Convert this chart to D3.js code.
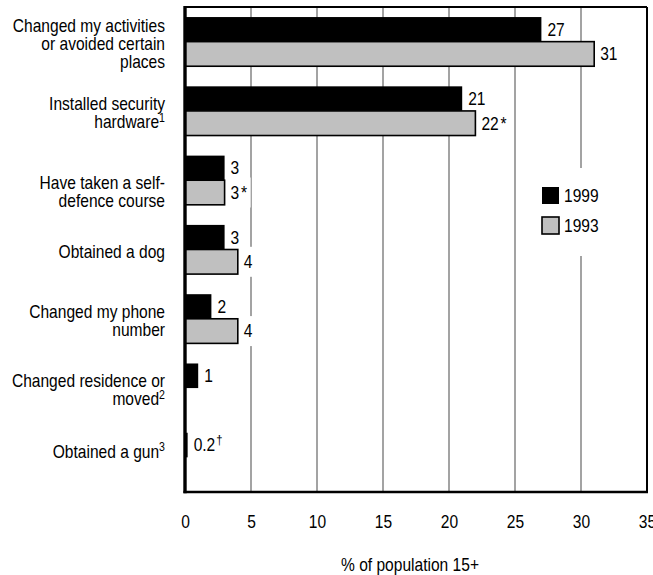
<!DOCTYPE html>
<html>
<head>
<meta charset="utf-8">
<script src="https://cdn.jsdelivr.net/npm/d3@7"></script>
<style>
  html, body { margin: 0; padding: 0; background: #fff; }
  svg { display: block; font-family: "Liberation Sans", Arial, sans-serif; }
</style>
</head>
<body>
<svg id="chart" width="653" height="575"></svg>
<script>
// Actions taken to protect against crime, % of population aged 15 and over
const categories = [
  ["Changed my activities", "or avoided certain", "places"],
  ["Installed security", "hardware"],
  ["Have taken a self-", "defence course"],
  ["Obtained a dog"],
  ["Changed my phone", "number"],
  ["Changed residence or", "moved"],
  ["Obtained a gun"]
];
const categoryNotes = ["", "1", "", "", "", "2", "3"];

const seriesNames = ["1999", "1993"];
const values1999 = [27, 21, 3, 3, 2, 1, 0.2];
const values1993 = [31, 22, 3, 4, 4, null, null];
const flags1999 = ["", "", "", "", "", "", "†"];
const flags1993 = ["", "*", "*", "", "", "", ""];

const tickValues = [0, 5, 10, 15, 20, 25, 30, 35];
const axisTitle = "% of population 15+";

const colors = { "1999": "#000000", "1993": "#c0c0c0" };

const svg = d3.select("#chart");
const FS = 17.5;   // font size
const SX = 0.89;   // horizontal squeeze for a condensed look
// small vertical nudges for individual category labels (px)
const catLabelNudge = [0, 0, 9, 0, 0, 0, -8];

const x = d3.scaleLinear().domain([0, 35]).range([185, 647]);
const y = d3.scaleBand()
  .domain(d3.range(categories.length))
  .range([7, 492])
  .paddingInner(0.29)
  .paddingOuter(0.145);
const ys = d3.scaleBand().domain(seriesNames).range([0, y.bandwidth()]);

const bars = [];
categories.forEach((c, i) => {
  [[values1999, flags1999, "1999"], [values1993, flags1993, "1993"]].forEach(([vals, flags, s]) => {
    if (vals[i] != null) bars.push({ i, s, v: vals[i], flag: flags[i] });
  });
});

const fmt = v => (v < 1 ? d3.format(".1f")(v) : d3.format("d")(v));
const barMid = d => y(d.i) + ys(d.s) + ys.bandwidth() / 2;

// layers, bottom to top
const gridLayer = svg.append("g");
const boxLayer = svg.append("g");
const barLayer = svg.append("g");
const labelLayer = svg.append("g");

// vertical grid lines
gridLayer.selectAll("line")
  .data(tickValues.filter(t => t > 0 && t < 35))
  .join("line")
  .attr("x1", d => x(d)).attr("x2", d => x(d))
  .attr("y1", y.range()[0]).attr("y2", y.range()[1])
  .attr("stroke", "#8c8c8c")
  .attr("stroke-width", 1.6);

// bars
barLayer.selectAll("rect")
  .data(bars)
  .join("rect")
  .attr("x", x(0))
  .attr("y", d => y(d.i) + ys(d.s))
  .attr("width", d => x(d.v) - x(0))
  .attr("height", ys.bandwidth())
  .attr("fill", d => colors[d.s])
  .attr("stroke", d => d.s === "1993" ? "#000" : "none")
  .attr("stroke-width", 1.6);

// value labels
const labelG = labelLayer.selectAll("g")
  .data(bars)
  .join("g")
  .attr("transform", d => `translate(${x(d.v) + 6},${barMid(d)}) scale(${SX},1)`);
const txt = labelG.append("text")
  .attr("font-size", FS)
  .attr("fill", "#000")
  .attr("dy", "0.36em");
txt.append("tspan").text(d => fmt(d.v));
txt.filter(d => d.flag === "*").append("tspan").attr("dx", 2).text("*");
txt.filter(d => d.flag === "†").append("tspan")
  .attr("font-size", FS * 0.72).attr("dy", "-0.55em").attr("dx", 1).text(d => d.flag);

// white boxes behind the value labels break the grid lines
txt.each(function (d) {
  const b = this.getBBox();
  boxLayer.append("rect")
    .attr("x", x(d.v) + 6 + b.x * SX - 3)
    .attr("y", barMid(d) - 15)
    .attr("width", b.width * SX + 6)
    .attr("height", 30)
    .attr("fill", "#fff");
});

// category labels
const lineH = 18;
categories.forEach((lines, i) => {
  const cy = y(i) + y.bandwidth() / 2 + 2 + catLabelNudge[i];
  const g = svg.append("g").attr("transform", `translate(165,0) scale(${SX},1)`);
  const t = g.append("text")
    .attr("font-size", FS)
    .attr("text-anchor", "end")
    .attr("fill", "#000");
  lines.forEach((ln, k) => {
    const base = cy - ((lines.length - 1) * lineH) / 2 + k * lineH + FS * 0.36;
    t.append("tspan").attr("x", 0).attr("y", base).text(ln);
    if (k === lines.length - 1 && categoryNotes[i]) {
      t.append("tspan")
        .attr("font-size", FS * 0.68)
        .attr("dy", "-0.55em")
        .text(categoryNotes[i]);
    }
  });
});

// legend
const lg = svg.append("g");
lg.append("rect").attr("x", 532).attr("y", 168).attr("width", 108).attr("height", 88).attr("fill", "#fff");
seriesNames.forEach((s, k) => {
  const yy = 187 + k * 30;
  lg.append("rect")
    .attr("x", 542).attr("y", yy).attr("width", 17).attr("height", 17)
    .attr("fill", colors[s])
    .attr("stroke", "#000").attr("stroke-width", s === "1993" ? 1.6 : 0);
  lg.append("g")
    .attr("transform", `translate(564,${yy + 8.5}) scale(${SX},1)`)
    .append("text")
    .attr("dy", "0.36em")
    .attr("font-size", FS).text(s);
});

// x axis tick labels
const axis = svg.append("g")
  .attr("transform", `translate(0,${y.range()[1]})`)
  .call(d3.axisBottom(x).tickValues(tickValues).tickSize(0).tickPadding(24).tickFormat(d3.format("d")));
axis.select(".domain").remove();
axis.attr("font-family", null).attr("font-size", FS);
axis.selectAll("text")
  .attr("fill", "#000")
  .attr("transform", `scale(${SX},1)`);

// plot frame
const [x0, x1] = x.range();
const [y0, y1] = y.range();
svg.append("line").attr("x1", x0).attr("x2", x1).attr("y1", y0).attr("y2", y0).attr("stroke", "#000").attr("stroke-width", 2);
svg.append("line").attr("x1", x1).attr("x2", x1).attr("y1", y0).attr("y2", y1).attr("stroke", "#000").attr("stroke-width", 2);
svg.append("line").attr("x1", x0 - 1.5).attr("x2", x1 + 1).attr("y1", y1).attr("y2", y1).attr("stroke", "#000").attr("stroke-width", 2.6);
svg.append("line").attr("x1", x0).attr("x2", x0).attr("y1", y0 - 1).attr("y2", y1 + 1.3).attr("stroke", "#000").attr("stroke-width", 3.4);

// axis title
svg.append("g")
  .attr("transform", `translate(${(x0 + x1) / 2 - 6},565) scale(${SX},1)`)
  .append("text")
  .attr("dy", "0.36em")
  .attr("text-anchor", "middle").attr("font-size", FS)
  .text(axisTitle);
</script>
</body>
</html>
